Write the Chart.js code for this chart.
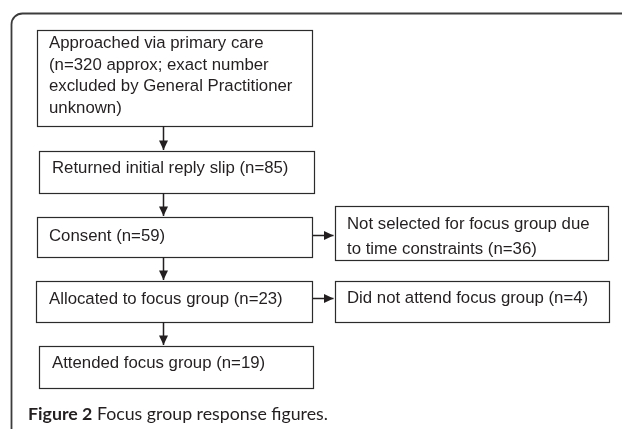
<!DOCTYPE html>
<html>
<head>
<meta charset="utf-8">
<script src="https://cdn.jsdelivr.net/npm/chart.js@4/dist/chart.umd.min.js"></script>
<style>
  html, body { margin: 0; padding: 0; background: #fff; }
  canvas { display: block; }
</style>
</head>
<body>
<canvas id="flow" width="622" height="431"></canvas>
<script>
'use strict';

// Main pathway: label, participant count, extra note inside the brackets
const stepLabels = ['Approached via primary care\n', 'Returned initial reply slip', 'Consent', 'Allocated to focus group', 'Attended focus group'];
const stepCounts = [320, 85, 59, 23, 19];
const stepNotes  = [' approx; exact number\nexcluded by General Practitioner\nunknown', '', '', '', ''];

// Side exits and the step each one branches from
const exitLabels = ['Not selected for focus group due\nto time constraints', 'Did not attend focus group'];
const exitCounts = [36, 4];
const exitFrom   = [2, 3];

const captionBold = 'Figure 2';
const captionText = ' Focus group response figures.';

// Layout (scale units = canvas px)
const COL_X = 163.5;
const stepBoxes = [
  { x0: 37, x1: 312, y0: 30,  y1: 126, pad: 12, base: 18, lh: 21.7 },
  { x0: 39, x1: 314, y0: 151, y1: 193, pad: 13, base: 22, lh: 21.7 },
  { x0: 37, x1: 312, y0: 217, y1: 257, pad: 12, base: 24, lh: 21.7 },
  { x0: 36, x1: 312, y0: 281, y1: 322, pad: 13, base: 23, lh: 21.7 },
  { x0: 39, x1: 313, y0: 346, y1: 388, pad: 13, base: 22, lh: 21.7 },
];
const exitBoxes = [
  { x0: 335, x1: 608, y0: 206, y1: 260, pad: 12, base: 23, lh: 25, linkY: 235.5 },
  { x0: 335, x1: 609, y0: 281, y1: 322, pad: 12, base: 22, lh: 25, linkY: 298.5 },
];

const BOX_FONT = '16.8px "Liberation Sans", Arial, sans-serif';
const CAPTION_FONT = 'Lato, "Open Sans", sans-serif';
const CAPTION_WIDTH = 300;
const INK = '#231f20';

const boxText = (label, n, note = '') =>
  `${label} (n=${n}${note})`.split('\n').map(s => s.trim());

const steps = stepLabels.map((l, i) => ({ lines: boxText(l, stepCounts[i], stepNotes[i]), box: stepBoxes[i] }));
const exits = exitLabels.map((l, i) => ({ lines: boxText(l, exitCounts[i]), box: exitBoxes[i] }));

// Connector segments built from the box layout (tip stops 1px short of the box)
const connectors = [];
for (let i = 0; i < steps.length - 1; i++) {
  connectors.push([{ x: COL_X, y: stepBoxes[i].y1 }, { x: COL_X, y: stepBoxes[i + 1].y0 - 1 }]);
}
exitBoxes.forEach((b, j) => {
  connectors.push([{ x: stepBoxes[exitFrom[j]].x1 + 1, y: b.linkY }, { x: b.x0 - 1.5, y: b.linkY }]);
});

const flowPlugin = {
  id: 'flowBoxes',
  beforeDatasetsDraw(chart) {
    const { ctx, scales: { x, y } } = chart;
    ctx.save();

    // outer figure frame (rounded top-left corner)
    const fx = x.getPixelForValue(11.5), fy = y.getPixelForValue(13.5), r = 11;
    ctx.strokeStyle = '#3c3c3c';
    ctx.lineWidth = 1.8;
    ctx.beginPath();
    ctx.moveTo(fx, y.getPixelForValue(429));
    ctx.lineTo(fx, fy + r);
    ctx.arcTo(fx, fy, fx + r, fy, r);
    ctx.lineTo(x.getPixelForValue(622), fy);
    ctx.stroke();

    // boxes + text
    ctx.font = BOX_FONT;
    ctx.textBaseline = 'alphabetic';
    [...steps, ...exits].forEach(({ lines, box }) => {
      const l = x.getPixelForValue(box.x0), rr = x.getPixelForValue(box.x1);
      const t = y.getPixelForValue(box.y0), b = y.getPixelForValue(box.y1);
      ctx.strokeStyle = '#2b2b2b';
      ctx.lineWidth = 1.2;
      ctx.strokeRect(l + 0.5, t + 0.5, rr - l, b - t);
      ctx.fillStyle = INK;
      lines.forEach((s, k) => ctx.fillText(s, l + box.pad, t + box.base + k * box.lh));
    });

    // caption, sized to span the same width as the original
    const cy = y.getPixelForValue(419.5);
    let cx = x.getPixelForValue(28);
    const measure = size => {
      ctx.font = `bold ${size}px ${CAPTION_FONT}`;
      let w = ctx.measureText(captionBold).width;
      ctx.font = `${size}px ${CAPTION_FONT}`;
      return w + ctx.measureText(captionText).width;
    };
    const size = 16 * CAPTION_WIDTH / measure(16);
    ctx.fillStyle = INK;
    ctx.font = `bold ${size}px ${CAPTION_FONT}`;
    ctx.fillText(captionBold, cx, cy);
    cx += ctx.measureText(captionBold).width;
    ctx.font = `${size}px ${CAPTION_FONT}`;
    ctx.fillText(captionText, cx, cy);
    ctx.restore();
  },
  afterDatasetsDraw(chart) {
    const { ctx } = chart;
    ctx.save();
    ctx.fillStyle = INK;
    chart.data.datasets.forEach((ds, i) => {
      const pts = chart.getDatasetMeta(i).data;
      const a = pts[0], b = pts[pts.length - 1];
      const ang = Math.atan2(b.y - a.y, b.x - a.x);
      const len = 9.5, hw = 4.5;
      ctx.beginPath();
      ctx.moveTo(b.x, b.y);
      ctx.lineTo(b.x - len * Math.cos(ang) + hw * Math.sin(ang), b.y - len * Math.sin(ang) - hw * Math.cos(ang));
      ctx.lineTo(b.x - len * Math.cos(ang) - hw * Math.sin(ang), b.y - len * Math.sin(ang) + hw * Math.cos(ang));
      ctx.closePath();
      ctx.fill();
    });
    ctx.restore();
  },
};

new Chart(document.getElementById('flow'), {
  type: 'scatter',
  data: {
    datasets: connectors.map(seg => ({
      data: seg,
      showLine: true,
      borderColor: INK,
      borderWidth: 1.5,
      pointRadius: 0,
      pointHoverRadius: 0,
    })),
  },
  options: {
    responsive: false,
    animation: false,
    events: [],
    layout: { padding: 0 },
    plugins: { legend: { display: false }, tooltip: { enabled: false } },
    scales: {
      x: { type: 'linear', min: 0, max: 622, display: false },
      y: { type: 'linear', min: 0, max: 431, reverse: true, display: false },
    },
  },
  plugins: [flowPlugin],
});
</script>
</body>
</html>
